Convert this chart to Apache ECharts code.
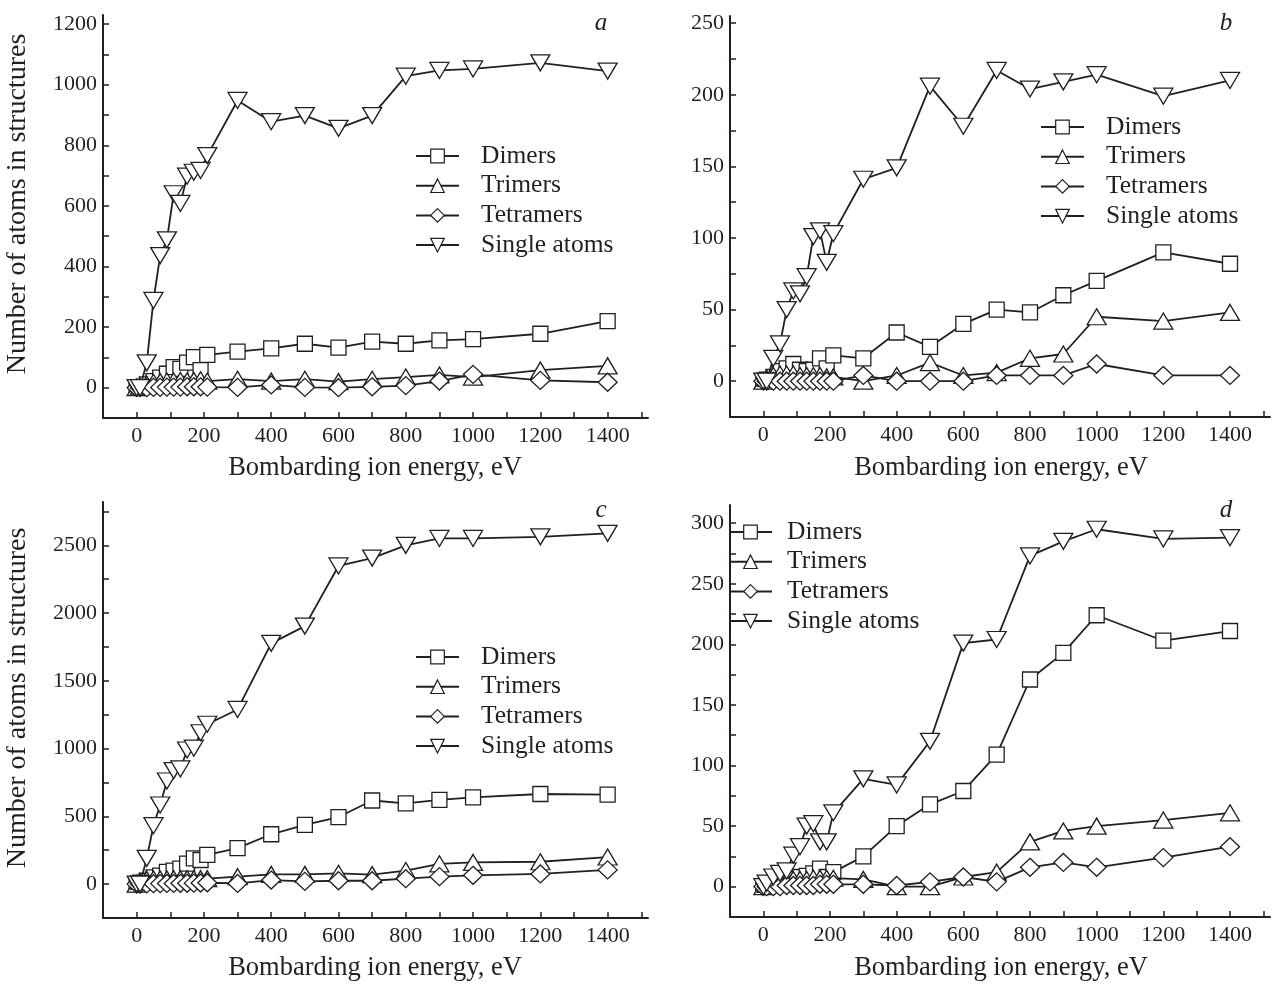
<!DOCTYPE html>
<html><head><meta charset="utf-8">
<script src="https://cdn.jsdelivr.net/npm/echarts@6/dist/echarts.min.js"></script>
<style>html,body{margin:0;padding:0;background:#fff}#c{width:1275px;height:987px}</style>
</head><body><div id="c"></div>
<script>
// Bombarding ion energy, eV
const energies = [0, 10, 30, 50, 70, 90, 110, 130, 150, 170, 190, 210, 300, 400, 500, 600, 700, 800, 900, 1000, 1200, 1400];
const seriesNames = ["Dimers", "Trimers", "Tetramers", "Single atoms"];

// panel a
const dimersA     = [0, 2, 11, 22, 33, 46, 68, 62, 83, 101, 58, 108, 119, 130, 145, 132, 152, 145, 156, 160, 178, 220];
const trimersA    = [0, 5, 12, 18, 20, 22, 22, 24, 22, 24, 26, 22, 28, 22, 28, 20, 28, 35, 42, 35, 58, 72];
const tetramersA  = [0, 0, 0, 1, 1, 2, 2, 2, 3, 3, 3, 2, 1, 9, 1, 0, 3, 7, 22, 44, 24, 18];
const singleA     = [0, 0, 82, 288, 436, 488, 640, 608, 698, 711, 717, 766, 948, 878, 898, 856, 898, 1028, 1047, 1052, 1072, 1045];
// panel b
const dimersB     = [0, 1, 3, 7, 9, 12, 8, 7, 8, 16, 9, 18, 16, 34, 24, 40, 50, 48, 60, 70, 90, 82];
const trimersB    = [0, 2, 4, 5, 5, 5, 4, 4, 4, 4, 3, 3, 0, 4, 13, 4, 6, 16, 19, 45, 42, 48];
const tetramersB  = [0, 0, 0, 0, 0, 0, 0, 0, 0, 0, 0, 0, 4, 0, 0, 0, 4, 4, 4, 12, 4, 4];
const singleB     = [0, 0, 16, 26, 50, 63, 61, 73, 101, 105, 83, 103, 141, 149, 206, 178, 217, 204, 209, 214, 199, 210];
// panel c
const dimersC     = [0, 10, 25, 50, 63, 90, 100, 115, 152, 190, 178, 216, 266, 368, 437, 495, 617, 596, 622, 640, 665, 660];
const trimersC    = [0, 20, 35, 38, 38, 38, 40, 40, 40, 40, 40, 40, 55, 72, 72, 80, 70, 100, 150, 160, 165, 200];
const tetramersC  = [0, 0, 2, 3, 4, 5, 5, 6, 6, 7, 8, 10, 5, 30, 20, 25, 25, 40, 55, 65, 75, 105];
const singleC     = [0, 0, 190, 431, 584, 761, 838, 850, 990, 1003, 1117, 1180, 1289, 1777, 1904, 2348, 2406, 2500, 2551, 2551, 2563, 2589];
// panel d
const dimersD     = [0, 1, 2, 3, 5, 6, 8, 9, 11, 15, 8, 12, 25, 50, 68, 79, 109, 171, 193, 224, 203, 211];
const trimersD    = [0, 2, 3, 4, 5, 6, 6, 6, 7, 7, 7, 7, 6, 0, 0, 8, 12, 37, 46, 50, 55, 61];
const tetramersD  = [0, 0, 0, 0, 1, 1, 1, 1, 1, 2, 2, 2, 2, 1, 4, 8, 4, 16, 20, 16, 24, 33];
const singleD     = [0, 3, 8, 11, 13, 26, 33, 50, 52, 37, 37, 61, 89, 84, 120, 201, 204, 273, 285, 295, 287, 288];

// axis ticks / labels
const xTicks = [0,100,200,300,400,500,600,700,800,900,1000,1100,1200,1300,1400,1500];
const xLabels = [0,200,400,600,800,1000,1200,1400];
const yTicksA = [0,100,200,300,400,500,600,700,800,900,1000,1100,1200];
const yLabelsA = [0,200,400,600,800,1000,1200];
const yTicksB = [0,25,50,75,100,125,150,175,200,225,250];
const yLabelsB = [0,50,100,150,200,250];
const yTicksC = [0,250,500,750,1000,1250,1500,1750,2000,2250,2500,2750];
const yLabelsC = [0,500,1000,1500,2000,2500];
const yTicksD = [0,25,50,75,100,125,150,175,200,225,250,275,300];
const yLabelsD = [0,50,100,150,200,250,300];
const panelLetters = ["a", "b", "c", "d"];
const yTitle = "Number of atoms in structures";
const xTitle = "Bombarding ion energy, eV";

const INK = '#231f20';
const FONT = '"Liberation Serif", "Times New Roman", serif';

const panels = [
  {data:[dimersA,trimersA,tetramersA,singleA], grid:{left:103, top:15, width:545, height:403}, y:[-100,1230], yt:yTicksA, yl:yLabelsA, legend:{left:410, top:138, pad:17}},
  {data:[dimersB,trimersB,tetramersB,singleB], grid:{left:730, top:16, width:540, height:401}, y:[-25,255], yt:yTicksB, yl:yLabelsB, legend:{left:1035, top:109, pad:17}},
  {data:[dimersC,trimersC,tetramersC,singleC], grid:{left:103, top:502, width:545, height:416}, y:[-250,2820], yt:yTicksC, yl:yLabelsC, legend:{left:410, top:639, pad:17}},
  {data:[dimersD,trimersD,tetramersD,singleD], grid:{left:730, top:505, width:540, height:412}, y:[-25,315], yt:yTicksD, yl:yLabelsD, legend:{left:723, top:514, pad:10}}
];

const symbols = [
  {symbol:'rect', size:15, rotate:0},
  {symbol:'triangle', size:[19,16], rotate:0},
  {symbol:'diamond', size:[19,18], rotate:0},
  {symbol:'triangle', size:[19,16], rotate:180}
];

const plain = v => String(v);
const grids = [], xAxes = [], yAxes = [], legends = [], series = [];
panels.forEach((p, i) => {
  grids.push(p.grid);
  xAxes.push({
    type:'value', gridIndex:i, min:-100, max:1520,
    axisLine:{show:true, onZero:false, lineStyle:{color:INK, width:2}},
    axisTick:{show:true, inside:true, length:6, lineStyle:{color:INK, width:1.5}, customValues:xTicks},
    axisLabel:{show:true, color:INK, fontFamily:FONT, fontSize:22, margin:7, customValues:xLabels, formatter:plain},
    splitLine:{show:false}
  });
  yAxes.push({
    type:'value', gridIndex:i, min:p.y[0], max:p.y[1],
    axisLine:{show:true, onZero:false, lineStyle:{color:INK, width:2}},
    axisTick:{show:true, inside:true, length:6, lineStyle:{color:INK, width:1.5}, customValues:p.yt},
    axisLabel:{show:true, color:INK, fontFamily:FONT, fontSize:22, margin:6, customValues:p.yl, formatter:plain},
    splitLine:{show:false}
  });
  legends.push({
    orient:'vertical', left:p.legend.left, top:p.legend.top,
    itemWidth:43, itemHeight:17, itemGap:3.7,
    data:seriesNames.map(n => n + '\u200b'.repeat(i)),
    itemStyle:{borderWidth:1.2},
    textStyle:{color:INK, fontFamily:FONT, fontSize:25.5, padding:[0,0,0,p.legend.pad]},
    selectedMode:false
  });
  p.data.forEach((arr, k) => {
    const s = symbols[k];
    series.push({
      type:'line', name:seriesNames[k] + '\u200b'.repeat(i),
      xAxisIndex:i, yAxisIndex:i,
      data:energies.map((e, j) => [e, arr[j]]),
      symbol:s.symbol, symbolSize:s.size, symbolRotate:s.rotate,
      showSymbol:true, showAllSymbol:true,
      lineStyle:{color:INK, width:1.8},
      itemStyle:{color:'#fff', borderColor:INK, borderWidth:1.3},
      z: 2 + k,
      animation:false
    });
  });
});

const graphics = [];
const letterPos = [[601,23],[1226,23],[601,510],[1226,510]];
letterPos.forEach((pos, i) => graphics.push({type:'text', x:pos[0], y:pos[1], style:{text:panelLetters[i], fill:INK, font:'italic 25px ' + FONT, textAlign:'center', textVerticalAlign:'middle'}}));
[[18,204],[18,698]].forEach(pos => graphics.push({type:'text', x:pos[0], y:pos[1], rotation:Math.PI/2, style:{text:yTitle, fill:INK, font:'28px ' + FONT, textAlign:'center', textVerticalAlign:'middle'}}));
[[375,468],[1001,468],[375,968],[1001,968]].forEach(pos => graphics.push({type:'text', x:pos[0], y:pos[1], style:{text:xTitle, fill:INK, font:'26.5px ' + FONT, textAlign:'center', textVerticalAlign:'middle'}}));

const chart = echarts.init(document.getElementById('c'), null, {renderer:'canvas'});
chart.setOption({
  backgroundColor:'#fff',
  animation:false,
  grid:grids, xAxis:xAxes, yAxis:yAxes, legend:legends, series:series, graphic:graphics
});
</script></body></html>
